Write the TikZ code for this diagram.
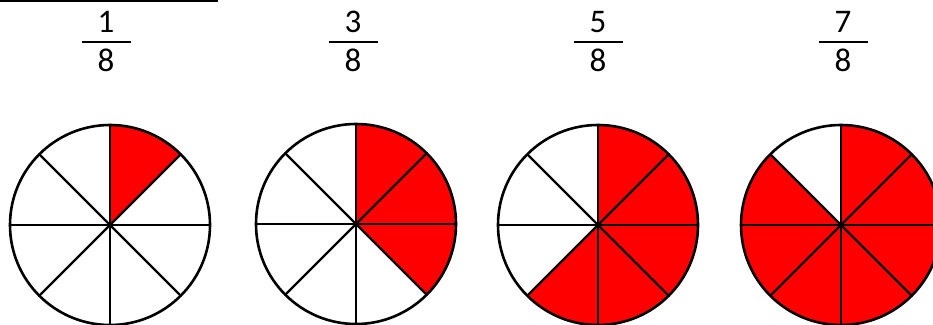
\documentclass[tikz,border=0pt]{standalone}
\usepackage{fontspec}
\setmainfont{Carlito}
\begin{document}
\begin{tikzpicture}[x=1pt,y=1pt,
  num/.style={anchor=base,inner sep=0pt,font=\fontsize{33}{33}\selectfont},
  fracbar/.style={line width=2pt},
  slice/.style={fill=red,draw=none},
  rim/.style={line width=2.6pt,draw=black},
  spoke/.style={line width=2.2pt,draw=black}]
\useasboundingbox (0,0) rectangle (933,324);
\clip (0,0) rectangle (933,324);
\fill[white] (0,0) rectangle (933,324);
% top rule
\coordinate (ruleL) at (0,323);
\coordinate (ruleR) at (218,323);
\draw[line width=2pt] (ruleL) -- (ruleR);
% fractions
\foreach \n/\cx in {1/106,3/353,5/598,7/843}{
  \node[num] (n\n) at (\cx,291) {\n};
  \node[num] (d\n) at (\cx,252) {8};
  \coordinate (bl\n) at (\cx-24.5,282);
  \coordinate (br\n) at (\cx+24.5,282);
  \draw[fracbar] (bl\n) -- (br\n);
}
% pies: red from angle a to angle b (counterclockwise)
\foreach \i/\cx/\cy/\a/\b in {1/110/99/45/90, 2/356/100/-45/90, 3/598/99/-135/90, 4/841/99/135/450}{
  \coordinate (c\i) at (\cx,\cy);
  \fill[slice] (c\i) -- ++(\a:100) arc[start angle=\a, end angle=\b, radius=100] -- cycle;
  \foreach \k in {0,45,...,315}{
    \draw[spoke] (c\i) -- ++(\k:100) coordinate (e\i-\k);
  }
  \draw[rim] (c\i) circle[radius=100];
}
\end{tikzpicture}
\end{document}
